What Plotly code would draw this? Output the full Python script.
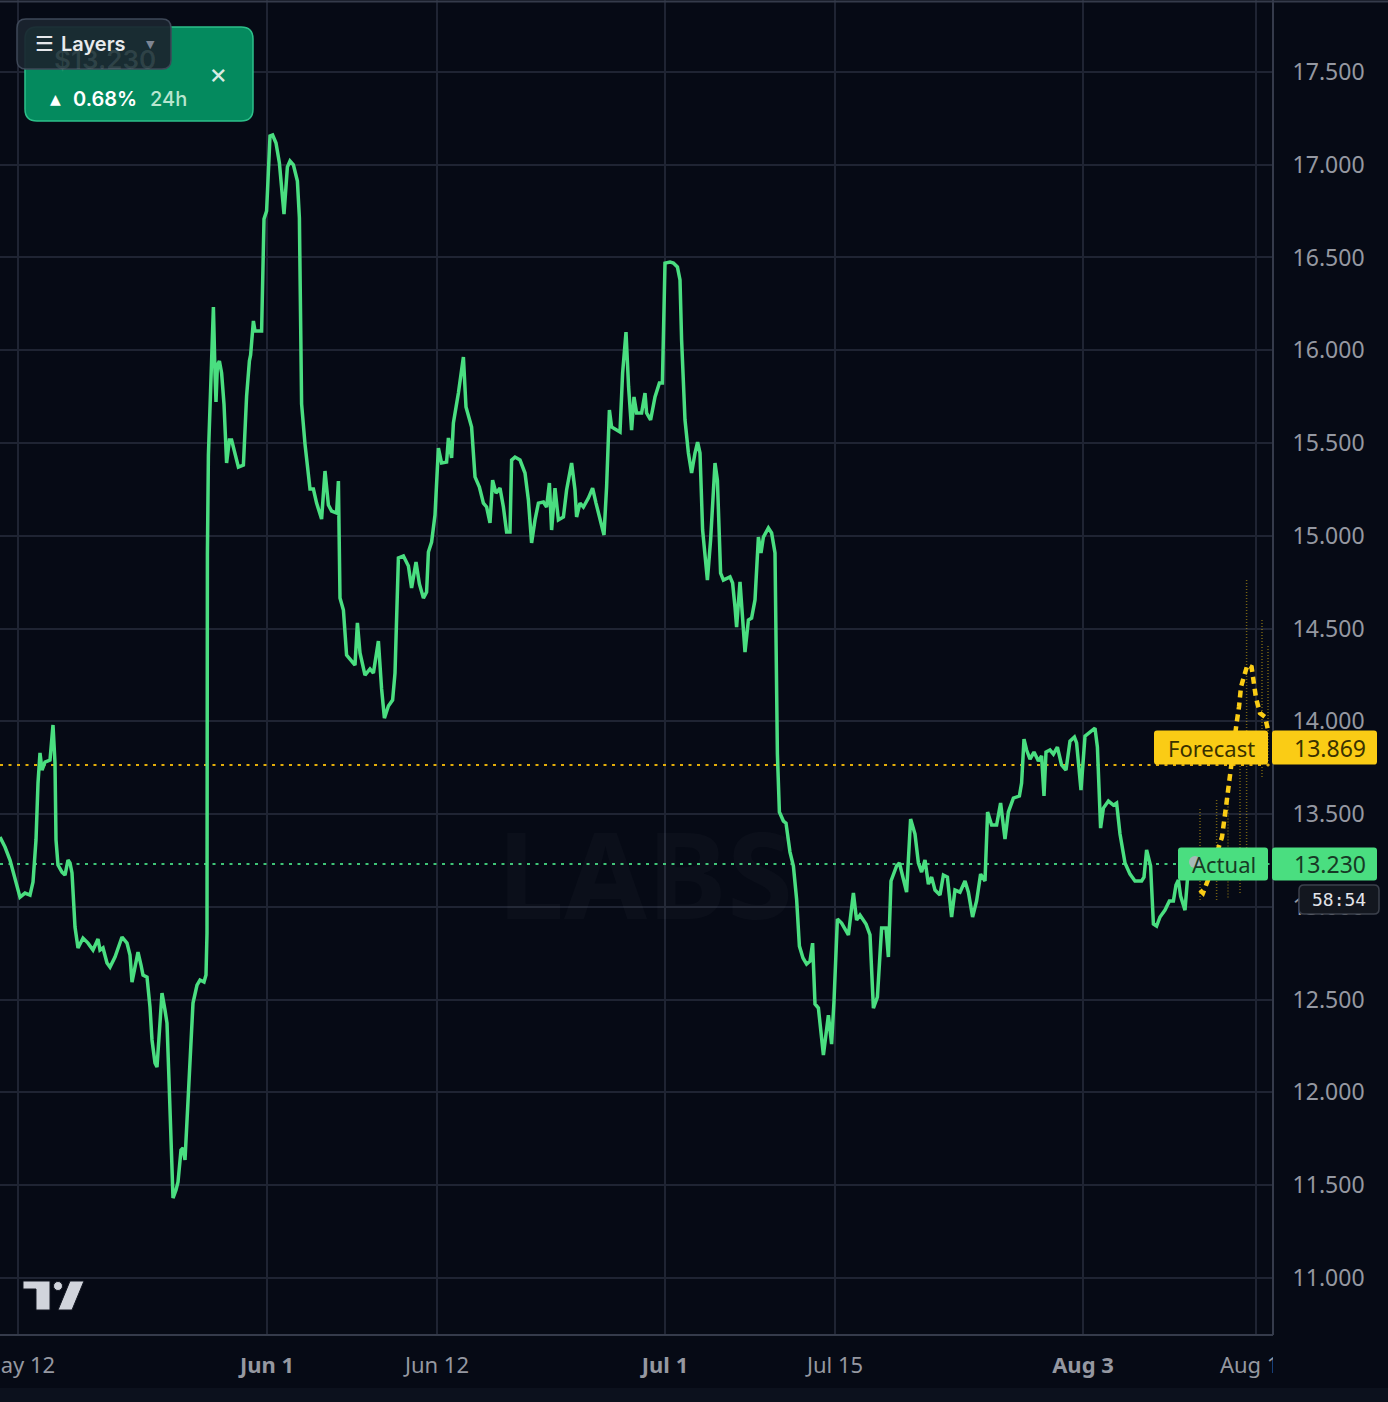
import plotly.graph_objects as go

# ---------------- data ----------------
# bar index (time axis is bar based, like the original chart) and price
bars_a = [0, 2.5, 5, 7.5, 10, 12.5, 15, 16.5, 18, 19,
          20, 21, 22.5, 25, 26.5, 27.5, 28, 29, 31, 32.5,
          34, 35, 36, 37.5, 39, 41.5, 44, 46.5, 47.5, 49,
          50, 51.5, 53.5, 55, 57.5, 59.5, 61, 63.5, 65, 66,
          67.5, 69, 70.5, 71.5, 73.5, 75, 76, 77.5, 78.5, 79.5,
          81, 82.5, 83.5, 84.5, 85.5, 86.5, 88, 89, 90.5, 91.5,
          92.5, 94, 95.5, 96.5, 98.5, 100, 102, 103, 103.5]
price_a = [13.376, 13.322, 13.252, 13.144, 13.052, 13.074, 13.063, 13.133, 13.360, 13.667,
           13.829, 13.737, 13.780, 13.791, 13.980, 13.775, 13.360, 13.225, 13.187, 13.171,
           13.252, 13.236, 13.182, 12.891, 12.778, 12.831, 12.804, 12.767, 12.794, 12.826,
           12.767, 12.778, 12.697, 12.675, 12.729, 12.794, 12.837, 12.804, 12.740, 12.594,
           12.686, 12.756, 12.686, 12.632, 12.621, 12.459, 12.282, 12.158, 12.136, 12.282,
           12.535, 12.443, 12.373, 12.066, 11.689, 11.430, 11.473, 11.516, 11.689, 11.699,
           11.635, 11.958, 12.282, 12.481, 12.578, 12.605, 12.594, 12.632, 12.858]

bars_b = [103.7, 104.2, 105, 105.8, 106.7, 107.5, 108, 108.7, 109.7, 110.8,
          112, 113.3, 114.7, 115.8, 117.5, 119.2, 121.7, 123.3, 124.7, 125.3,
          126.7, 127.5, 130.8, 132, 133.3, 135, 136.3, 138, 139.7, 142,
          143.7, 145, 146.7, 148.7, 149.7, 150.8, 152.5, 155, 156.7, 158.3,
          160.8, 162.5, 164.2, 165.8, 168.3, 169.2, 170, 171.7, 173.3, 176.3,
          177.5, 178.7, 180, 182.5, 185, 186.7, 189.2, 190.8, 192.2, 194.2,
          196.3, 197.5, 199.2, 201.7, 204.2, 205.8, 208, 209.7, 211.7, 213.3,
          214.2, 215.8, 217.5]
price_b = [14.901, 15.435, 15.710, 15.963, 16.233, 15.877, 15.721, 15.920, 15.942, 15.877,
           15.710, 15.392, 15.516, 15.516, 15.435, 15.370, 15.381, 15.753, 15.942, 15.974,
           16.158, 16.104, 16.104, 16.707, 16.751, 17.155, 17.160, 17.117, 17.009, 16.734,
           16.988, 17.020, 16.999, 16.912, 16.713, 15.710, 15.494, 15.252, 15.252, 15.176,
           15.090, 15.349, 15.166, 15.133, 15.123, 15.295, 14.664, 14.600, 14.357, 14.314,
           14.303, 14.530, 14.368, 14.249, 14.282, 14.260, 14.432, 14.174, 14.017, 14.082,
           14.114, 14.260, 14.880, 14.891, 14.837, 14.718, 14.858, 14.740, 14.664, 14.697,
           14.912, 14.966, 15.112]

bars_c = [219.2, 220.8, 223.3, 224.2, 225.8, 226.7, 229.2, 231.7, 233, 234.2,
          235.8, 237.5, 239.7, 241.7, 243.3, 245, 246.3, 248, 250, 251.7,
          253.3, 255, 255.8, 257.5, 260, 262.5, 264.2, 265.8, 267.5, 269.2,
          271.7, 273.3, 274.7, 275.8, 277.5, 279.2, 281.7, 283.3, 285.8, 287.5,
          288.3, 290, 291.7, 294.2, 296.3, 298, 300, 302, 303.3, 304.7,
          305.8, 308.3, 310, 311.3, 313, 314.3, 315.8, 317, 318.3, 320.8,
          322.5, 323.3, 325.3, 327.5, 329.7, 331.2, 332.5, 335, 336.7, 338.7,
          340, 340.8, 342.5, 344.2, 345.8, 347.5, 348.8, 350, 351.3, 353.7,
          355.3, 357.5, 358.7, 360.3, 361.7, 365, 366.3, 367.5, 368.3, 370,
          371.7, 372.5, 374.2, 375.8, 377.5, 379.2, 380.5, 381.7, 384.2, 385.8,
          387.5]
price_c = [15.473, 15.392, 15.397, 15.527, 15.419, 15.608, 15.769, 15.963, 15.694, 15.640,
           15.586, 15.317, 15.263, 15.176, 15.155, 15.069, 15.300, 15.230, 15.257, 15.155,
           15.020, 15.020, 15.408, 15.424, 15.408, 15.338, 15.193, 14.961, 15.085, 15.176,
           15.182, 15.155, 15.284, 15.031, 15.257, 15.085, 15.101, 15.247, 15.392, 15.247,
           15.101, 15.176, 15.155, 15.203, 15.257, 15.176, 15.085, 15.004, 15.263, 15.678,
           15.586, 15.570, 15.559, 15.877, 16.098, 15.802, 15.570, 15.748, 15.662, 15.662,
           15.769, 15.662, 15.624, 15.748, 15.823, 15.823, 16.470, 16.476, 16.470, 16.449,
           16.379, 16.055, 15.624, 15.446, 15.338, 15.446, 15.505, 15.446, 15.031, 14.761,
           14.977, 15.392, 15.300, 14.799, 14.761, 14.778, 14.745, 14.616, 14.508, 14.751,
           14.530, 14.373, 14.546, 14.556, 14.654, 14.993, 14.907, 14.993, 15.042, 15.015,
           14.907]

bars_d = [388, 388.7, 389.7, 391.7, 393, 395, 396.7, 398.3, 399.7, 401.5,
          403.3, 405, 406.3, 407.5, 409.2, 411.7, 414.2, 415.8, 417, 418.7,
          420.8, 424.2, 426.7, 428.3, 430, 433, 435, 436.7, 438.7, 440.8,
          443, 444.2, 445.5, 448.3, 449.7, 451.7, 453.3, 455.3, 457.5, 459.2,
          460.8, 462.5, 464.2, 465.8, 467.5, 470, 471.7, 473.7, 475.8, 477.5,
          480, 482.5, 484.2, 486.3, 488.3, 490.3, 492.5, 493.8, 495.8, 498.3,
          500.3, 502.5, 504.2, 506.7, 509.7, 510.8, 512, 513.3, 515, 517,
          519.2, 520.8, 522, 523, 525, 526.7, 528.7, 530.8, 533, 535,
          537.2, 538.3, 539.2, 540.5, 542.5, 545, 547.5, 548.7, 549.7, 550.3,
          551.7, 554.2, 556.7, 558.3, 560, 562.5, 565, 567.5, 570.8, 572,
          573.3, 575.3, 576.7, 578.3, 580, 582.5, 584.7, 586.7, 588, 589.2,
          590.3, 592.5, 593.7, 596, 597.5]
price_d = [14.411, 13.823, 13.511, 13.462, 13.451, 13.295, 13.220, 13.042, 12.788, 12.724,
           12.691, 12.707, 12.804, 12.476, 12.454, 12.201, 12.416, 12.260, 12.492, 12.934,
           12.912, 12.848, 13.074, 12.928, 12.955, 12.907, 12.848, 12.454, 12.513, 12.885,
           12.885, 12.729, 13.139, 13.220, 13.236, 13.139, 13.079, 13.473, 13.392, 13.236,
           13.187, 13.252, 13.122, 13.160, 13.090, 13.063, 13.171, 13.160, 12.945, 13.090,
           13.079, 13.139, 13.079, 12.945, 13.031, 13.176, 13.139, 13.511, 13.441, 13.441,
           13.559, 13.365, 13.511, 13.586, 13.597, 13.667, 13.904, 13.845, 13.796, 13.834,
           13.786, 13.813, 13.597, 13.834, 13.845, 13.823, 13.861, 13.764, 13.737, 13.893,
           13.915, 13.883, 13.775, 13.629, 13.920, 13.942, 13.963, 13.861, 13.570, 13.424,
           13.532, 13.570, 13.548, 13.559, 13.392, 13.236, 13.176, 13.139, 13.139, 13.160,
           13.306, 13.220, 12.907, 12.896, 12.945, 12.982, 13.031, 13.031, 13.117, 13.144,
           13.058, 12.982, 13.144, 13.220, 13.230]

forecast_bars = [600, 601.5, 604, 607.5, 611, 613, 614.7, 616.5, 618.3, 619.5,
                 620.5, 622.5, 623.7, 625.8, 626.5, 628, 630, 632.5, 634]
forecast_price = [13.090, 13.074, 13.144, 13.252, 13.376, 13.538, 13.699, 13.856, 13.990, 14.077,
                  14.185, 14.260, 14.303, 14.292, 14.222, 14.125, 14.044, 14.023, 13.953]

band_bars = [600, 608.3, 614, 620, 623.3, 631, 634]
band_low = [13.036, 13.036, 13.050, 13.074, 13.252, 13.700, 13.753]
band_high = [13.532, 13.575, 13.600, 13.791, 14.772, 14.550, 14.411]

actual_value = 13.230
forecast_value = 13.869
forecast_line_level = 13.764
change_24h = "0.68%"
countdown = "58:54"

time_tick_bars = [9, 133.5, 218.5, 332.5, 417.5, 541.5, 628]
time_tick_text = ["May 12", "<b>Jun 1</b>", "Jun 12", "<b>Jul 1</b>", "Jul 15", "<b>Aug 3</b>", "Aug 17"]
price_tick_vals = [11.0, 11.5, 12.0, 12.5, 13.0, 13.5, 14.0, 14.5, 15.0, 15.5, 16.0, 16.5, 17.0, 17.5]
price_tick_text = ["11.000", "11.500", "12.000", "12.500", "13.000", "13.500", "14.000",
                   "14.500", "15.000", "15.500", "16.000", "16.500", "17.000", "17.500"]

# ---------------- style / layout helpers ----------------
W, H = 1388, 1402
PLOT_R, PLOT_B = 1272, 1334
X_RANGE = [0, 636]
Y_RANGE = [10.697, 17.888]
BG = "#060a15"
GRID = "#1f2433"
AXIS = "#353b4b"
GREEN = "#4ade80"
YELLOW = "#facc15"
TICK = "#9598a1"


def fx(x):
    return x / PLOT_R


def fy(y):
    return 1 - y / PLOT_B


def ypx(v):
    return (Y_RANGE[1] - v) / (Y_RANGE[1] - Y_RANGE[0]) * PLOT_B


def rrect(x0, y0, x1, y1, r):
    pts = [
        ("M", [(x0 + r, y0)]), ("L", [(x1 - r, y0)]), ("Q", [(x1, y0), (x1, y0 + r)]),
        ("L", [(x1, y1 - r)]), ("Q", [(x1, y1), (x1 - r, y1)]), ("L", [(x0 + r, y1)]),
        ("Q", [(x0, y1), (x0, y1 - r)]), ("L", [(x0, y0 + r)]), ("Q", [(x0, y0), (x0 + r, y0)]),
    ]
    s = ""
    for cmd, ps in pts:
        s += cmd + " " + " ".join(f"{fx(a):.5f},{fy(b):.5f}" for a, b in ps) + " "
    return s + "Z"


def poly(points):
    return "M " + " L ".join(f"{fx(a):.5f},{fy(b):.5f}" for a, b in points) + " Z"


shapes = []
annotations = []


def box(x0, y0, x1, y1, r, fill, line_color=None, lw=0):
    shapes.append(dict(type="path", xref="paper", yref="paper", path=rrect(x0, y0, x1, y1, r),
                       fillcolor=fill, line=dict(color=line_color or fill, width=lw), layer="above"))


def text(x, y, t, size, color, family="Noto Sans", anchor="center", weight=None):
    f = dict(family=family, size=size, color=color)
    if weight:
        f["weight"] = weight
    annotations.append(dict(xref="paper", yref="paper", x=fx(x), y=fy(y), text=t, showarrow=False,
                            xanchor=anchor, yanchor="middle", font=f, borderpad=0))


fig = go.Figure()

# reference dotted lines
fig.add_trace(go.Scatter(x=X_RANGE, y=[forecast_line_level] * 2, mode="lines", hoverinfo="skip",
                         line=dict(color="#e2ad0a", width=2, dash="3px,5.5px")))
fig.add_trace(go.Scatter(x=X_RANGE, y=[actual_value] * 2, mode="lines", hoverinfo="skip",
                         line=dict(color="#3fc477", width=2, dash="3px,5.5px")))

# forecast range (faint dotted verticals)
bx, by = [], []
for b, lo, hi in zip(band_bars, band_low, band_high):
    bx += [b, b, None]
    by += [lo, hi, None]
fig.add_trace(go.Scatter(x=bx, y=by, mode="lines", hoverinfo="skip",
                         line=dict(color="rgba(250,204,21,0.45)", width=1.5, dash="1px,2px")))

# price line
bars = bars_a + bars_b + bars_c + bars_d
price = price_a + price_b + price_c + price_d
fig.add_trace(go.Scatter(x=bars, y=price, mode="lines", hoverinfo="skip",
                         line=dict(color=GREEN, width=3.5)))

# forecast dashed path
fig.add_trace(go.Scatter(x=forecast_bars, y=forecast_price, mode="lines", hoverinfo="skip",
                         line=dict(color=YELLOW, width=4.5, dash="7px,5px")))

# watermark
text(645, 872, "LABS", 120, "rgba(255,255,255,0.022)", weight=700)

# top border & bottom strip & time-axis clip
shapes.append(dict(type="line", xref="paper", yref="paper", x0=0, x1=fx(W), y0=fy(1.5), y1=fy(1.5),
                   line=dict(color=AXIS, width=2), layer="above"))
shapes.append(dict(type="rect", xref="paper", yref="paper", x0=fx(PLOT_R + 1), x1=fx(W),
                   y0=fy(PLOT_B + 1), y1=fy(1388), fillcolor=BG, line=dict(width=0), layer="above"))
shapes.append(dict(type="rect", xref="paper", yref="paper", x0=0, x1=fx(W),
                   y0=fy(1388), y1=fy(H), fillcolor="#0c111d", line=dict(width=0), layer="above"))

# price labels
fy_c = ypx(forecast_value) + 2
box(1154, fy_c - 17, 1268, fy_c + 17, 3, YELLOW)
box(1272, fy_c - 17, 1377, fy_c + 17, 3, YELLOW)
text(1211, fy_c, "Forecast", 22, "#3a3100")
text(1293, fy_c, f"{forecast_value:.3f}", 23, "#3a3100", anchor="left")

ay_c = ypx(actual_value)
box(1178, ay_c - 16.5, 1268, ay_c + 16.5, 3, GREEN)
box(1272, ay_c - 16.5, 1377, ay_c + 16.5, 3, GREEN)
text(1224, ay_c, "Actual", 22, "#173a25")
text(1293, ay_c, f"{actual_value:.3f}", 23, "#173a25", anchor="left")
shapes.append(dict(type="circle", xref="paper", yref="paper", x0=fx(1189), x1=fx(1201),
                   y0=fy(ay_c - 8), y1=fy(ay_c + 4), fillcolor="rgba(178,181,190,0.9)",
                   line=dict(width=0), layer="above"))

box(1299, ay_c + 21, 1379, ay_c + 50, 5, "#13171f", "#3c414c", 1.5)
text(1339, ay_c + 35.5, countdown, 18, "#e2e4ea", family="DejaVu Sans Mono")

# TradingView-like logo
shapes.append(dict(type="path", xref="paper", yref="paper", layer="above",
                   path=poly([(23, 1281), (50, 1281), (50, 1310), (36, 1310), (36, 1289), (23, 1289)]),
                   fillcolor="#d1d4dc", line=dict(color="#131722", width=1)))
shapes.append(dict(type="circle", xref="paper", yref="paper", layer="above",
                   x0=fx(53.5), x1=fx(62.5), y0=fy(1281.5), y1=fy(1290.5),
                   fillcolor="#d1d4dc", line=dict(color="#131722", width=1)))
shapes.append(dict(type="path", xref="paper", yref="paper", layer="above",
                   path=poly([(70, 1281), (84, 1281), (72, 1310), (58, 1310)]),
                   fillcolor="#d1d4dc", line=dict(color="#131722", width=1)))

# top-left widget
box(25, 27, 253, 121, 12, "#048a5e", "#2cc08a", 1.5)
text(105, 60, "$13.230", 26, "rgba(200,225,220,0.13)", family="Inter", weight=600)
text(56, 99, "▲", 14, "#ffffff", family="DejaVu Sans")
text(72, 99, change_24h, 20, "#ffffff", family="Inter", anchor="left", weight=600)
text(149, 99, "24h", 20, "#b8e6cf", family="Inter", anchor="left", weight=500)
text(218, 73, "×", 28, "#d8ece3", family="Inter")
box(17, 19, 171, 69, 9, "rgba(27,37,47,0.93)", "#3e4858", 1.5)
text(44, 44, "☰", 21, "#e6e8ec", family="DejaVu Sans")
text(60, 44, "Layers", 20, "#e8eaed", family="Inter", anchor="left", weight=600)
text(150, 45, "▼", 11, "#7d8593", family="DejaVu Sans")

fig.update_layout(
    width=W, height=H, autosize=False,
    margin=dict(l=0, r=W - PLOT_R, t=0, b=H - PLOT_B, pad=0, autoexpand=False),
    paper_bgcolor=BG, plot_bgcolor=BG, showlegend=False,
    xaxis=dict(range=X_RANGE, tickvals=time_tick_bars, ticktext=time_tick_text,
               showgrid=True, gridcolor=GRID, gridwidth=1.5, zeroline=False,
               showline=True, linecolor=AXIS, linewidth=2, ticks="", automargin=False,
               tickfont=dict(family="Noto Sans", size=22, color=TICK), ticklabelstandoff=11,
               ticklabeloverflow="allow", fixedrange=True),
    yaxis=dict(range=Y_RANGE, side="right", tickvals=price_tick_vals, ticktext=price_tick_text,
               showgrid=True, gridcolor=GRID, gridwidth=1.5, zeroline=False,
               showline=True, linecolor=AXIS, linewidth=2, ticks="", automargin=False,
               tickfont=dict(family="Noto Sans", size=23, color=TICK), ticklabelstandoff=14,
               ticklabeloverflow="allow", fixedrange=True),
    shapes=shapes, annotations=annotations,
)

fig.write_html("out.html", config=dict(displayModeBar=False),
               post_script="document.body.style.margin='0';document.body.style.overflow='hidden';document.body.style.background='#060a15';")
